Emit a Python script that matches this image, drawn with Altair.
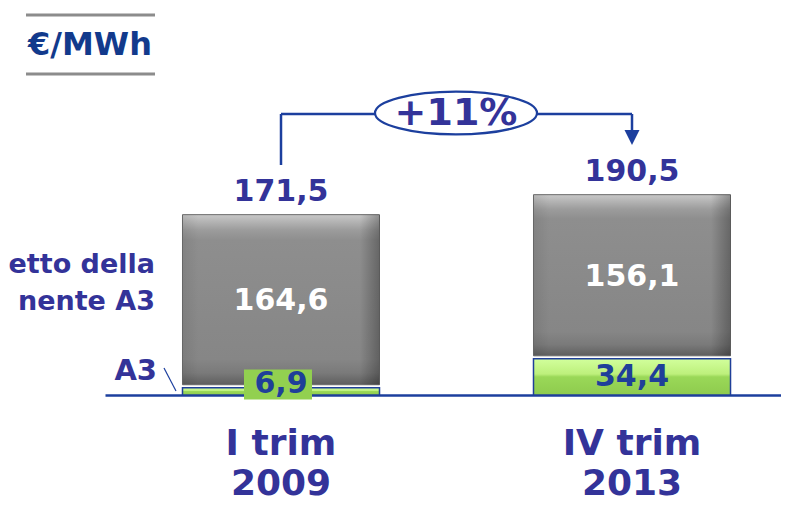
import altair as alt
import pandas as pd

# ---- data ----
categories = ["I trim 2009", "IV trim 2013"]
a3_values = [6.9, 34.4]
net_values = [164.6, 156.1]
total_values = [171.5, 190.5]
a3_labels = ["6,9", "34,4"]
net_labels = ["164,6", "156,1"]
total_labels = ["171,5", "190,5"]
change_label = "+11%"
unit_label = "€/MWh"
net_series_lines = ["etto della", "nente A3"]
a3_series_label = "A3"

FONT = "DejaVu Sans"
BLUE_TXT = "#333399"
NAVY = "#1f3f99"
LINE = "#1c3f9e"

df = pd.DataFrame({
    "cat": categories,
    "a3": a3_values,
    "net": net_values,
    "total": total_values,
    "a3_lab": a3_labels,
    "net_lab": net_labels,
    "tot_lab": total_labels,
})
arrow_df = pd.DataFrame({"from": [categories[0]], "to": [categories[1]]})
one = pd.DataFrame({"k": [0]})

xscale = alt.Scale(domain=categories, paddingInner=0.4387, paddingOuter=0.1823,
                   align=0.6055, round=False)
yscale = alt.Scale(domain=[0, 368], nice=False, zero=True)

x_enc = alt.X(
    "cat:N", scale=xscale, sort=categories, title=None,
    axis=alt.Axis(
        domainColor=LINE, domainWidth=2.5, ticks=False, tickSize=0, grid=False,
        labelAngle=0, labelFont=FONT, labelFontWeight="bold", labelFontSize=36,
        labelColor=BLUE_TXT, labelPadding=59, labelLineHeight=40,
        labelBaseline="alphabetic", labelLimit=400, labelOverlap=False,
        labelExpr="[slice(datum.label, 0, length(datum.label) - 5), slice(datum.label, -4)]",
    ),
)

def grad_v(stops):
    return alt.Gradient(gradient="linear", x1=0, x2=0, y1=0, y2=1,
                        stops=[alt.GradientStop(offset=o, color=c) for o, c in stops])

def grad_h(stops):
    return alt.Gradient(gradient="linear", x1=0, x2=1, y1=0, y2=0,
                        stops=[alt.GradientStop(offset=o, color=c) for o, c in stops])

gray_fill = grad_v([(0, "#c8c8c8"), (0.09, "#9c9c9c"), (0.15, "#8e8e8e"),
                    (0.85, "#868686"), (0.93, "#7a7a7a"), (1, "#5e5e5e")])
side_shade = grad_h([(0, "rgba(0,0,0,0.08)"), (0.08, "rgba(0,0,0,0)"),
                     (0.90, "rgba(0,0,0,0)"), (1, "rgba(0,0,0,0.28)")])
green_fill = grad_v([(0, "#d2ff9c"), (0.42, "#bdf07c"), (0.5, "#9ad858"),
                     (1, "#8ecb4e")])

base = alt.Chart(df)

gray = base.mark_bar(color=gray_fill, stroke="#6a6a6a", strokeWidth=1,
                     y2Offset=-3).encode(
    x=x_enc,
    y=alt.Y("total:Q", scale=yscale, axis=None),
    y2="a3:Q",
)
gray_side = base.mark_bar(color=side_shade, y2Offset=-3).encode(
    x=alt.X("cat:N", sort=categories), y="total:Q", y2="a3:Q")

green = base.mark_bar(color=green_fill, stroke=NAVY, strokeWidth=1.5).encode(
    x=alt.X("cat:N", sort=categories),
    y=alt.Y("a3:Q"),
    y2=alt.datum(0),
)

calc = base.transform_calculate(
    net_mid="datum.a3 + datum.net / 2",
    a3_pos="datum.a3 < 20 ? 10 : datum.a3 / 2",
)

total_txt = base.mark_text(font=FONT, fontWeight="bold", fontSize=30,
                           color=BLUE_TXT, baseline="middle", dy=-23).encode(
    x=alt.X("cat:N", sort=categories), y="total:Q", text="tot_lab:N")

net_txt = calc.mark_text(font=FONT, fontWeight="bold", fontSize=30,
                         color="white", baseline="middle").encode(
    x=alt.X("cat:N", sort=categories), y="net_mid:Q", text="net_lab:N")

a3_box = calc.transform_filter("datum.a3 < 20").mark_point(
    shape="M-1,-0.441L1,-0.441L1,0.441L-1,0.441Z", size=4624, filled=True,
    color="#92d050", opacity=1, xOffset=-3).encode(
    x=alt.X("cat:N", sort=categories), y="a3_pos:Q")

a3_txt = calc.mark_text(font=FONT, fontWeight="bold", fontSize=30,
                        color=NAVY, baseline="middle").encode(
    x=alt.X("cat:N", sort=categories), y="a3_pos:Q", text="a3_lab:N")

# ---- change arrow ----
arr = alt.Chart(arrow_df)
left_up = arr.mark_rule(color=LINE, strokeWidth=2.5).encode(
    x=alt.X("from:N", sort=categories, bandPosition=0.5),
    y=alt.value(106), y2=alt.value(157))
across = arr.mark_rule(color=LINE, strokeWidth=2.5).encode(
    x=alt.X("from:N", sort=categories, bandPosition=0.5),
    x2=alt.X2("to:N", bandPosition=0.5),
    y=alt.value(106))
right_down = arr.mark_rule(color=LINE, strokeWidth=2.5).encode(
    x=alt.X("to:N", sort=categories, bandPosition=0.5),
    y=alt.value(106), y2=alt.value(126))
head = arr.mark_point(shape="M-1,-1L1,-1L0,1Z", size=225, filled=True,
                      color=LINE, opacity=1).encode(
    x=alt.X("to:N", sort=categories, bandPosition=0.5), y=alt.value(129.5))

ann = alt.Chart(one)
ellipse = ann.mark_point(
    shape="M-1,0A1,0.265 0 1,0 1,0A1,0.265 0 1,0 -1,0Z", size=26244,
    filled=True, fill="white", stroke=LINE, strokeWidth=2.2, opacity=1).encode(
    x=alt.value(351), y=alt.value(105))
change_txt = ann.mark_text(font=FONT, fontWeight="bold", fontSize=38,
                           color=BLUE_TXT, baseline="middle").encode(
    x=alt.value(351), y=alt.value(106), text=alt.value(change_label))

# ---- unit label with gray rules ----
unit_top = ann.mark_rule(color="#8c8c8c", strokeWidth=3).encode(
    x=alt.value(-79), x2=alt.value(50), y=alt.value(7))
unit_bot = ann.mark_rule(color="#8c8c8c", strokeWidth=3).encode(
    x=alt.value(-79), x2=alt.value(50), y=alt.value(66))
unit_txt = ann.mark_text(font=FONT, fontWeight="bold", fontSize=32,
                         color="#123a8c", baseline="alphabetic").encode(
    x=alt.value(-15), y=alt.value(47), text=alt.value(unit_label))

# ---- series labels on the left ----
net_lab1 = ann.mark_text(font=FONT, fontWeight="bold", fontSize=27,
                         color=BLUE_TXT, align="right", baseline="alphabetic").encode(
    x=alt.value(50), y=alt.value(265), text=alt.value(net_series_lines[0]))
net_lab2 = ann.mark_text(font=FONT, fontWeight="bold", fontSize=27,
                         color=BLUE_TXT, align="right", baseline="alphabetic").encode(
    x=alt.value(50), y=alt.value(302), text=alt.value(net_series_lines[1]))
a3_lab = ann.mark_text(font=FONT, fontWeight="bold", fontSize=29,
                       color=BLUE_TXT, align="right", baseline="alphabetic").encode(
    x=alt.value(52), y=alt.value(372), text=alt.value(a3_series_label))
a3_tick = ann.mark_rule(color=LINE, strokeWidth=1.2).encode(
    x=alt.value(59), x2=alt.value(71), y=alt.value(360), y2=alt.value(383))

chart = alt.layer(
    gray, gray_side, green, a3_box, total_txt, net_txt, a3_txt,
    across, left_up, right_down, head, ellipse, change_txt,
    unit_top, unit_bot, unit_txt, net_lab1, net_lab2, a3_lab, a3_tick,
).properties(
    width=676, height=387,
    autosize=alt.AutoSizeParams(type="none"),
    padding={"left": 97, "top": 0, "right": 0, "bottom": 108},
    background="white",
).configure_view(stroke=None)

chart.save("out.html", embed_options={"renderer": "svg", "actions": False})
